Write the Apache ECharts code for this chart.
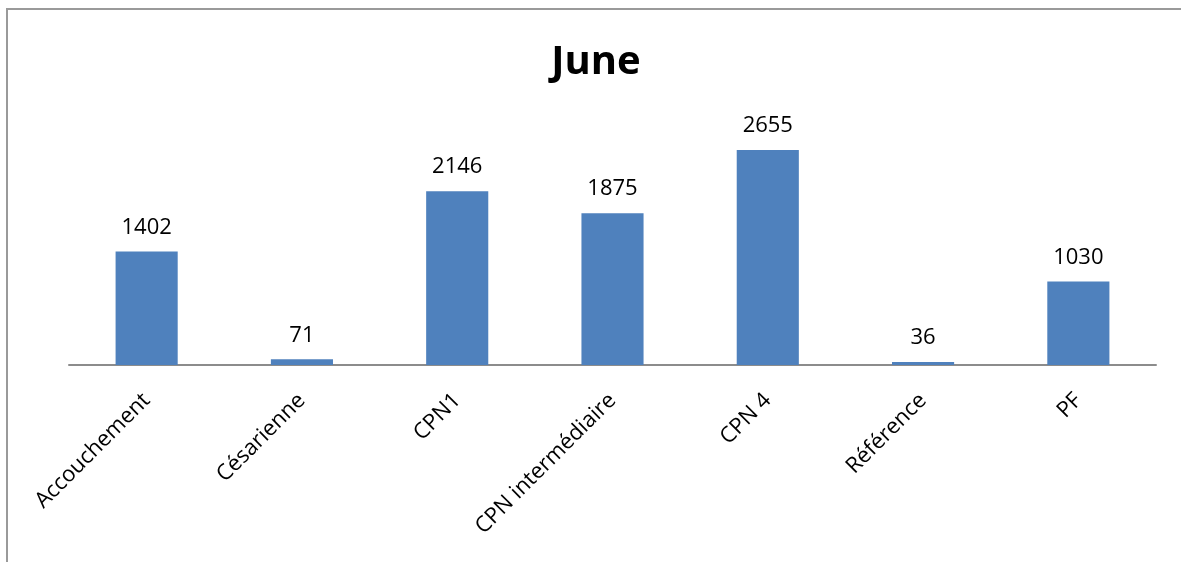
<!DOCTYPE html>
<html>
<head>
<meta charset="utf-8">
<script src="https://cdn.jsdelivr.net/npm/echarts@6/dist/echarts.min.js"></script>
<style>
  html, body { margin: 0; padding: 0; background: #fff; overflow: hidden; }
  #chart { position: absolute; left: 0; top: 0; width: 1181px; height: 562px; }
  .frame { position: absolute; left: 6px; top: 8px; width: 1200px; height: 600px; border: 2px solid #9a9a9a; pointer-events: none; }
</style>
</head>
<body>
<div id="chart"></div>
<div class="frame"></div>
<script>
const categories = ['Accouchement', 'Césarienne', 'CPN1', 'CPN intermédiaire', 'CPN 4', 'Référence', 'PF']
const values = [1402, 71, 2146, 1875, 2655, 36, 1030]

const chart = echarts.init(document.getElementById('chart'))

chart.setOption({
  animation: false,
  title: {
    text: 'June',
    left: 591,
    textAlign: 'center',
    top: 38,
    textStyle: { fontFamily: 'Open Sans', fontWeight: 'bold', fontSize: 40, color: '#000' }
  },
  grid: { left: 69, right: 25, top: 122, bottom: 197 },
  xAxis: {
    type: 'category',
    data: categories,
    axisLine: { lineStyle: { color: '#8c8c8c', width: 2 } },
    axisTick: { show: false },
    axisLabel: {
      rotate: 45,
      interval: 0,
      margin: 32,
      color: '#000',
      fontFamily: 'Open Sans',
      fontSize: 22
    }
  },
  yAxis: {
    type: 'value',
    min: 0,
    max: 3000,
    show: false
  },
  series: [{
    type: 'bar',
    data: values,
    barWidth: '40%',
    itemStyle: { color: '#4f81bd' },
    label: {
      show: true,
      position: 'top',
      distance: 13,
      color: '#000',
      fontFamily: 'Open Sans',
      fontSize: 22
    }
  }]
})
</script>
</body>
</html>
